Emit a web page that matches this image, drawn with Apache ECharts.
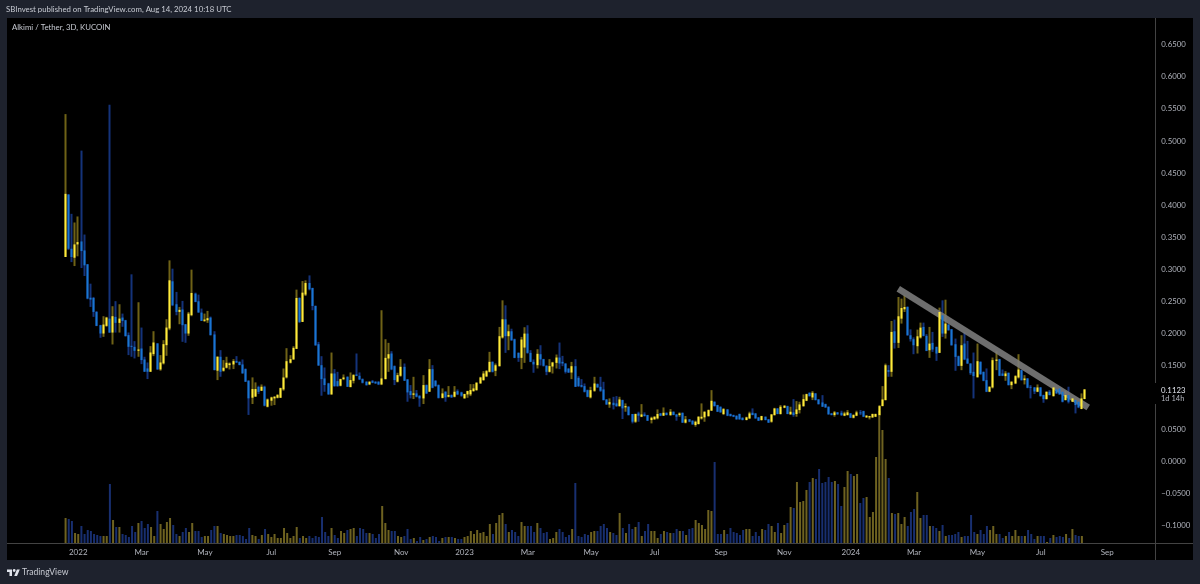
<!DOCTYPE html>
<html><head><meta charset="utf-8">
<style>html,body{margin:0;padding:0;background:#1e222d}#c{width:1200px;height:584px}</style>
<script src="https://cdn.jsdelivr.net/npm/echarts@6/dist/echarts.min.js"></script>
</head><body><div id="c"></div>
<script>
const headerText='SBInvest published on TradingView.com, Aug 14, 2024 10:18 UTC';
const symbolText='Alkimi / Tether, 3D, KUCOIN';
const lastPrice='0.1123', countdown='1d 14h';
const firstDate='2021-10-27', stepDays=3, leadEmpty=18, totalCategories=363;
const tickLabels=[['2022-01-01','2022'],['2022-03-01','Mar'],['2022-05-01','May'],['2022-07-01','Jul'],['2022-09-01','Sep'],['2022-11-01','Nov'],['2023-01-01','2023'],['2023-03-01','Mar'],['2023-05-01','May'],['2023-07-01','Jul'],['2023-09-01','Sep'],['2023-11-01','Nov'],['2024-01-01','2024'],['2024-03-01','Mar'],['2024-05-01','May'],['2024-07-01','Jul'],['2024-09-01','Sep']];
const priceTicks=[-0.1,-0.05,0,0.05,0.15,0.2,0.25,0.3,0.35,0.4,0.45,0.5,0.55,0.6,0.65];
const trendline=[[281,0.2695],[341,0.0841]];
// open, close, high, low
const candles=[
[.3189,.4175,.542,.3189],[.4164,.3318,.417,.33],[.3318,.3189,.3863,.311],[.3178,.3386,.3728,.3048],[.3386,.3422,.3822,.32],[.3432,.3282,.485,.3017],[.3292,.3059,.354,.2893],[.3075,.254,.308,.253],[.2554,.2525,.2773,.241],[.255,.2332,.2566,.2255],
[.2332,.2114,.2345,.211],[.2125,.1995,.213,.1928],[.1995,.2135,.2265,.1943],[.2114,.2244,.2255,.21],[.2228,.201,.5566,.2005],[.201,.2265,.2421,.1824],[.2255,.2161,.25,.201],[.2161,.2228,.2452,.201],[.2244,.2192,.2306,.21],[.2202,.1953,.2208,.195],
[.197,.1787,.2011,.1658],[.1803,.1787,.2919,.1632],[.1787,.1725,.1876,.1606],[.1725,.1746,.2483,.1632],[.1761,.158,.2088,.1517],[.159,.1398,.1632,.1398],[.145,.1398,.1543,.1284],[.1398,.1699,.1798,.1395],[.1673,.1855,.2031,.1642],[.184,.1434,.1845,.143],
[.1434,.1543,.1658,.1414],[.1528,.1829,.1891,.1512],[.1813,.2088,.2218,.1647],[.2073,.2825,.3137,.2047],[.281,.2436,.3007,.2423],[.2452,.2332,.2644,.228],[.2332,.2364,.241,.214],[.237,.2125,.2504,.1865],[.214,.1995,.214,.185],[.1995,.2306,.2332,.1959],
[.2281,.2628,.2992,.2265],[.2618,.2488,.2633,.2483],[.2498,.2322,.2602,.2322],[.2322,.2192,.2384,.2192],[.2192,.2213,.2306,.2176],[.2202,.2234,.2348,.2161],[.2244,.1969,.226,.1965],[.198,.1424,.2031,.142],[.1414,.1632,.164,.1268],[.1632,.1398,.1735,.132],
[.1414,.1461,.158,.14],[.1461,.1538,.1632,.145],[.1502,.1528,.1543,.1434],[.1512,.1564,.1595,.144],[.1564,.1543,.1642,.1535],[.1554,.1502,.1556,.15],[.1512,.1372,.159,.137],[.144,.1242,.145,.124],[.1258,.0983,.1265,.0724],[.0993,.1128,.131,.0895],
[.101,.1128,.1232,.1008],[.1161,.1084,.118,.105],[.1101,.1164,.12,.11],[.1164,.0868,.118,.0858],[.0852,.0966,.098,.0842],[.0946,.0998,.1008,.0868],[.0982,.1008,.1018,.0878],[.0992,.1034,.105,.0982],[.0992,.1143,.115,.099],[.1122,.1309,.1449,.1102],
[.1309,.1563,.1766,.1294],[.1538,.1595,.1657,.1527],[.1589,.1771,.1797,.1589],[.1755,.255,.268,.1755],[.255,.2176,.256,.216],[.2176,.2633,.2814,.2176],[.2602,.2783,.2825,.258],[.2783,.2685,.2902,.2669],[.2705,.2425,.271,.2358],[.2425,.181,.2433,.1805],
[.1828,.1496,.1864,.149],[.1501,.1283,.1641,.1024],[.1294,.119,.1465,.1086],[.1216,.1044,.1225,.104],[.1044,.1371,.1698,.104],[.1371,.1174,.1439,.1164],[.1252,.1174,.1397,.1164],[.118,.1283,.129,.117],[.1283,.1309,.1356,.1268],[.132,.1164,.1325,.116],
[.116,.1268,.1387,.1153],[.1257,.1346,.1361,.1216],[.1356,.1335,.1683,.133],[.1335,.1278,.1387,.1268],[.1283,.1226,.1294,.1216],[.1242,.119,.125,.118],[.12,.1242,.125,.119],[.1252,.1226,.127,.122],[.1242,.1216,.125,.121],[.1242,.12,.125,.119],
[.12,.1294,.2358,.119],[.1283,.1615,.1906,.128],[.1605,.1672,.1849,.1397],[.1683,.1434,.1719,.1423],[.1486,.1268,.1497,.119],[.1242,.1346,.1382,.1231],[.1335,.1475,.1595,.132],[.1475,.1257,.1527,.1257],[.1278,.1076,.1285,.093],[.1096,.1034,.119,.0982],
[.1039,.106,.1319,.0972],[.106,.1008,.1112,.0998],[.1024,.0982,.103,.0852],[.0982,.119,.1345,.0894],[.119,.106,.12,.105],[.1086,.1439,.1595,.1086],[.1439,.1148,.1501,.114],[.1257,.1174,.1268,.1164],[.119,.099,.12,.098],[.099,.106,.1138,.0982],
[.1086,.0998,.1094,.093],[.1008,.1034,.1174,.0998],[.1034,.0998,.1045,.099],[.1008,.1086,.1174,.0998],[.1096,.1044,.1122,.1034],[.1076,.1024,.1086,.1008],[.0982,.105,.1055,.098],[.1044,.1096,.1102,.0992],[.1044,.1112,.1205,.1018],[.1096,.1138,.1205,.1086],
[.1112,.1226,.1236,.11],[.1216,.1309,.132,.121],[.1268,.1371,.1408,.1257],[.1325,.1408,.1425,.1315],[.1397,.1553,.1709,.1387],[.1553,.1397,.156,.1387],[.1413,.15,.1527,.133],[.1485,.1953,.2098,.148],[.1932,.2217,.2513,.1916],[.2217,.1953,.2435,.1693],
[.1953,.203,.2134,.1735],[.203,.189,.207,.188],[.1906,.1615,.1915,.161],[.1693,.1615,.17,.1553],[.1615,.1901,.1942,.1439],[.1776,.1994,.2093,.1537],[.1994,.1693,.2124,.168],[.1693,.1553,.1735,.1548],[.1553,.1512,.159,.1382],[.1501,.1678,.175,.1449],
[.1672,.159,.1812,.1496],[.1595,.1491,.16,.148],[.1491,.1397,.15,.1345],[.1397,.1486,.1595,.1387],[.148,.1543,.1553,.1371],[.1537,.162,.1667,.1449],[.162,.1527,.1854,.1439],[.1553,.1527,.1646,.1485],[.1527,.1397,.153,.1371],[.1449,.1386,.145,.138],
[.1386,.1485,.1552,.1283],[.1485,.1163,.1594,.116],[.1303,.1174,.1329,.116],[.119,.1163,.1283,.1153],[.1174,.1085,.1215,.1075],[.1111,.1007,.112,.1],[.0997,.1111,.1163,.0982],[.1101,.1215,.1319,.1085],[.1205,.1153,.1215,.115],[.1163,.1101,.1319,.1085],
[.1122,.0956,.1241,.095],[.0966,.0888,.097,.088],[.0888,.0924,.0982,.0836],[.0914,.0877,.1007,.081],[.0904,.0862,.1018,.085],[.0862,.0966,.1007,.0852],[.0956,.0826,.0962,.066],[.0842,.0862,.0904,.0774],[.0852,.0722,.086,.0715],[.0738,.0618,.074,.0592],
[.0618,.0738,.0745,.06],[.0748,.0712,.0774,.0618],[.0696,.0732,.0893,.069],[.0732,.0706,.0764,.07],[.0722,.0634,.0725,.063],[.0644,.068,.0696,.0592],[.0655,.0696,.0704,.065],[.067,.0738,.081,.0655],[.0748,.0712,.0755,.0705],[.0712,.0758,.0841,.0712],
[.0758,.0722,.0762,.0718],[.0722,.0774,.0815,.0707],[.0774,.0722,.0778,.072],[.0732,.0696,.0735,.0634],[.0722,.0748,.0764,.0696],[.0758,.0603,.076,.06],[.0603,.0655,.0707,.0592],[.0655,.0618,.066,.061],[.0634,.0577,.064,.057],[.0566,.0618,.0634,.054],
[.0582,.0696,.0704,.0575],[.0668,.0696,.0904,.0652],[.0686,.0774,.078,.0618],[.0706,.08,.081,.0696],[.079,.0945,.1111,.079],[.093,.0862,.0935,.0855],[.0878,.0774,.0882,.077],[.0852,.0764,.0856,.076],[.0738,.0815,.0831,.0722],[.081,.0712,.0815,.0705],
[.0738,.0706,.0745,.07],[.0722,.0696,.0728,.069],[.0712,.0655,.0715,.065],[.0738,.0655,.0745,.065],[.068,.0644,.0685,.064],[.0644,.0686,.0696,.064],[.067,.0748,.0774,.066],[.0758,.0722,.0826,.072],[.0748,.067,.075,.0665],[.0686,.0634,.069,.063],
[.0644,.0706,.071,.0635],[.0696,.0644,.07,.064],[.0655,.0603,.066,.06],[.0618,.0732,.0738,.0603],[.0722,.0825,.0835,.0712],[.0825,.0738,.083,.0735],[.0738,.0852,.0878,.073],[.0836,.0867,.0878,.083],[.0862,.0738,.0868,.0735],[.0732,.0774,.0852,.073],
[.0764,.0722,.0971,.0696],[.0738,.081,.094,.0696],[.08,.0888,.093,.0748],[.0862,.0971,.1044,.085],[.0945,.1049,.1055,.094],[.107,.1018,.1075,.101],[.0997,.107,.1096,.0956],[.106,.0956,.1065,.095],[.0966,.0893,.097,.0885],[.0919,.0852,.1033,.085],
[.0893,.0841,.09,.0835],[.0852,.0732,.0856,.073],[.0748,.0722,.0755,.0718],[.0722,.0764,.0784,.0696],[.0764,.0732,.077,.073],[.0758,.0722,.079,.0707],[.0712,.0748,.0774,.0705],[.0722,.0764,.08,.0715],[.0748,.068,.0755,.0675],[.068,.0722,.0735,.067],
[.0712,.0764,.079,.0705],[.0764,.0748,.08,.0722],[.0784,.0696,.079,.069],[.0685,.0712,.0722,.068],[.0685,.0706,.071,.0655],[.0685,.0738,.0745,.068],[.0696,.0738,.0745,.069],[.0722,.0862,.0878,.0712],[.0862,.0966,.1174,.086],[.0956,.15,.1525,.095],
[.1423,.1397,.1501,.132],[.1397,.202,.2191,.132],[.203,.1849,.2212,.176],[.1849,.2264,.2565,.177],[.2227,.2393,.2539,.215],[.2373,.2409,.2591,.2331],[.2409,.1968,.242,.196],[.1968,.1906,.206,.187],[.1906,.1812,.1935,.1672],[.1797,.1952,.2056,.1683],
[.1932,.2087,.2165,.1916],[.2098,.1958,.2165,.195],[.1958,.1724,.1985,.172],[.1734,.1838,.2098,.1615],[.1849,.1745,.202,.1708],[.1786,.1683,.179,.1568],[.1693,.2331,.2399,.169],[.2279,.1994,.2513,.1942],[.1994,.215,.2523,.1916],[.2134,.2046,.214,.204],
[.2061,.1812,.2066,.1805],[.1828,.163,.1916,.1413],[.1641,.149,.165,.1485],[.149,.1812,.1968,.1423],[.1838,.1589,.202,.158],[.1605,.1527,.188,.152],[.1527,.1376,.153,.135],[.1397,.133,.1698,.0982],[.1314,.1563,.1838,.1304],[.1553,.1361,.156,.135],
[.1397,.1257,.14,.125],[.1267,.1086,.145,.108],[.1086,.1164,.117,.108],[.1153,.1579,.162,.1138],[.1568,.1589,.1719,.1423],[.1594,.1335,.16,.133],[.1371,.1335,.1433,.133],[.133,.1371,.1407,.1257],[.1382,.1189,.1385,.1185],[.1189,.1241,.1252,.1127],
[.1215,.133,.1345,.1205],[.1309,.1433,.1672,.1293],[.1423,.1267,.143,.126],[.1267,.1293,.1345,.12],[.1293,.1148,.13,.114],[.1163,.1148,.119,.0982],[.1153,.109,.116,.105],[.1086,.1153,.12,.108],[.1153,.1018,.116,.101],[.1034,.0971,.104,.0914],
[.0971,.1086,.109,.0965],[.1086,.1034,.1112,.103],[.1018,.1153,.116,.101],[.1122,.106,.1127,.1055],[.1137,.1044,.1143,.104],[.1086,.093,.109,.092],[.0956,.1034,.1101,.095],[.1034,.093,.1164,.0904],[.093,.0982,.099,.0925],[.0956,.0878,.096,.0748],
[.093,.0842,.0935,.083],[.0816,.0982,.106,.0815],[.0972,.1123,.1125,.097]];
const volumes=[25,24,22,10,9,17,9,13,12,9,8,7,7,7,59,23,16,16,9,8,6,17,11,20,22,15,19,16,7,32,19,14,21,25,18,9,7,11,15,11,20,12,12,6,7,7,13,17,17,10,9,8,7,7,8,8,7,4,15,8,7,4,8,14,9,6,9,5,5,15,10,5,7,16,5,7,5,7,5,7,6,26,11,7,15,8,5,12,10,13,14,15,7,15,14,10,10,9,5,9,37,20,13,12,12,7,
6,7,14,4,5,2,6,3,4,6,7,6,2,5,6,6,6,5,4,4,6,7,12,9,13,10,11,7,19,9,20,28,30,19,11,13,11,7,21,17,17,17,11,20,15,10,11,4,5,11,14,11,6,8,14,60,7,6,9,8,11,12,12,17,19,15,11,10,8,30,15,10,19,14,16,21,7,12,19,12,12,5,9,12,11,10,10,14,12,12,8,14,15,23,20,18,14,33,32,81,9,9,13,9,15,11,10,8,13,14,14,7,11,7,14,13,19,17,11,
20,10,18,20,36,35,61,41,42,53,61,65,64,74,60,61,66,61,62,59,37,56,72,69,67,69,40,45,46,26,31,86,132,113,84,65,30,29,30,19,26,17,31,34,51,25,28,28,17,17,15,12,18,7,8,8,9,11,6,7,7,28,11,9,13,9,17,13,17,9,9,5,7,11,7,13,7,7,7,13,9,4,7,7,7,1,5,8,6,7,6,9,5,14,8,7,7];

const DAY=864e5, start=Date.parse(firstDate+'T00:00:00Z');
const categories=[];
for(let i=0;i<totalCategories;i++)categories.push(new Date(start+i*stepDays*DAY).toISOString().slice(0,10));
const labelAt={};
tickLabels.forEach(([d,t])=>{const idx=categories.findIndex(c=>c>=d);if(idx>=0)labelAt[idx]=t;});

const W='#6f6216',B='#14337a',Y='#ffeb3b',L='#1976d2',VY='#6e6220',VB='#182f70';
const wickData=candles.map((c,i)=>[i+leadEmpty,c[0],c[1],c[3],c[2]]);
const bodyData=candles.map((c,i)=>[i+leadEmpty,c[0],c[1],Math.min(c[0],c[1]),Math.max(c[0],c[1])]);
const volData=volumes.map((v,i)=>({value:[i+leadEmpty,v],itemStyle:{color:candles[i][1]>=candles[i][0]?VY:VB}}));

const LEFT=7,GW=1149.3,TOP=18,BOT=543;
const txt='#b2b5be';
const FF='Lato';
const font=s=>s+'px "'+FF+'"';
const chart=echarts.init(document.getElementById('c'),null,{renderer:'canvas'});
chart.setOption({
 animation:false,backgroundColor:'#1e222d',
 grid:[{left:LEFT,top:TOP,width:GW,height:BOT-TOP},{left:LEFT,top:BOT-140,width:GW,height:140}],
 xAxis:[
  {type:'category',gridIndex:0,data:categories,boundaryGap:true,axisLine:{show:false},axisTick:{show:false},splitLine:{show:false},
   axisLabel:{show:true,interval:i=>labelAt[i]!==undefined,formatter:(v,i)=>labelAt[i]||'',color:txt,fontFamily:FF,fontSize:8,margin:5,hideOverlap:false}},
  {type:'category',gridIndex:1,data:categories,boundaryGap:true,axisLine:{show:false},axisTick:{show:false},axisLabel:{show:false},splitLine:{show:false}}],
 yAxis:[
  {type:'value',gridIndex:0,position:'right',min:-0.1275,max:0.692,axisLine:{show:false},axisTick:{show:false},splitLine:{show:false},
   axisLabel:{show:true,customValues:priceTicks,formatter:v=>(v<0?'\u2212':'')+Math.abs(v).toFixed(4),color:txt,fontFamily:FF,fontSize:7.8,margin:5,padding:[1,0,0,0],showMinLabel:true,showMaxLabel:true}},
  {type:'value',gridIndex:1,min:0,max:140,show:false}],
 series:[
  {type:'bar',xAxisIndex:1,yAxisIndex:1,data:volData,barWidth:2,z:1,encode:{x:0,y:1}},
  {type:'candlestick',xAxisIndex:0,yAxisIndex:0,data:wickData,encode:{x:0,y:[1,2,3,4]},barWidth:0.01,z:2,large:false,
   itemStyle:{color:W,color0:B,borderColor:W,borderColor0:B,borderWidth:2}},
  {type:'line',xAxisIndex:0,yAxisIndex:0,data:trendline,showSymbol:false,symbol:'none',z:3,silent:true,lineStyle:{color:'rgba(125,125,125,0.88)',width:6.5,cap:'butt'}},
  {type:'candlestick',xAxisIndex:0,yAxisIndex:0,data:bodyData,encode:{x:0,y:[1,2,3,4]},barWidth:0.01,z:4,large:false,
   itemStyle:{color:Y,color0:L,borderColor:Y,borderColor0:L,borderWidth:2}}
 ],
 graphic:[
  {type:'rect',z:-10,silent:true,shape:{x:7,y:18,width:1186,height:542},style:{fill:'#000'}},
  {type:'line',z:5,silent:true,shape:{x1:7,y1:543.5,x2:1193,y2:543.5},style:{stroke:'#434343',lineWidth:1}},
  {type:'line',z:5,silent:true,shape:{x1:1155.5,y1:18,x2:1155.5,y2:560},style:{stroke:'#434343',lineWidth:1}},
  {type:'rect',z:6,silent:true,shape:{x:1153,y:383,width:40,height:21},style:{fill:'#000'}},
  {type:'text',z:7,silent:true,x:1161,y:390,style:{text:lastPrice,fill:'#e0e3eb',font:font(7.8),textVerticalAlign:'middle'}},
  {type:'text',z:7,silent:true,x:1161,y:399,style:{text:countdown,fill:'#b2b5be',font:font(7.5),textVerticalAlign:'middle'}},
  {type:'text',z:7,silent:true,x:6,y:9.5,style:{text:headerText,fill:'#c8cbd3',font:font(7.8),textVerticalAlign:'middle'}},
  {type:'text',z:7,silent:true,x:12,y:27.5,style:{text:symbolText,fill:'#c8cbd3',font:font(7.8),textVerticalAlign:'middle'}},
  {type:'polygon',z:7,silent:true,shape:{points:[[7,569.5],[12,569.5],[12,575.9],[9.5,575.9],[9.5,572],[7,572]]},style:{fill:'#e0e3eb'}},
  {type:'polygon',z:7,silent:true,shape:{points:[[16.9,569.5],[19.8,569.5],[17,575.9],[14.2,575.9]]},style:{fill:'#e0e3eb'}},
  {type:'circle',z:7,silent:true,shape:{cx:14.2,cy:570.5,r:1.4},style:{fill:'#e0e3eb'}},
  {type:'text',z:7,silent:true,x:22,y:572.5,style:{text:'TradingView',fill:'#c8cbd3',font:font(8.6),textVerticalAlign:'middle'}}
 ]
});
</script></body></html>
